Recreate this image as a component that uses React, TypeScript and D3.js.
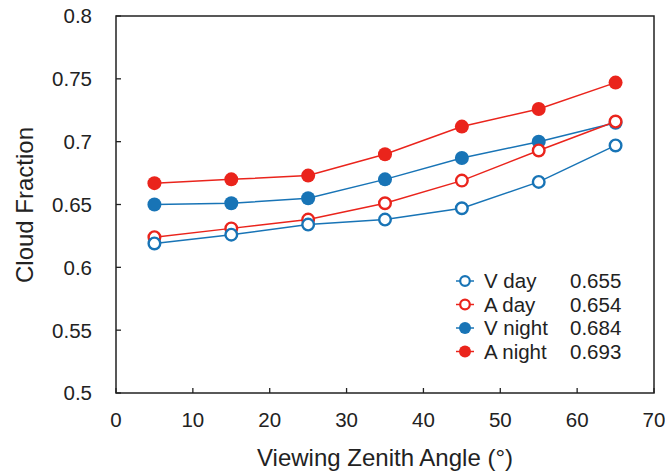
import React from "react";
import * as d3 from "d3";

const angles = [5, 15, 25, 35, 45, 55, 65];
const vDay = [0.619, 0.626, 0.634, 0.638, 0.647, 0.668, 0.697];
const aDay = [0.624, 0.631, 0.638, 0.651, 0.669, 0.693, 0.716];
const vNight = [0.65, 0.651, 0.655, 0.67, 0.687, 0.7, 0.715];
const aNight = [0.667, 0.67, 0.673, 0.69, 0.712, 0.726, 0.747];
const xTicks = [0, 10, 20, 30, 40, 50, 60, 70];
const yTicks = [0.5, 0.55, 0.6, 0.65, 0.7, 0.75, 0.8];
const legendNames = ["V day", "A day", "V night", "A night"];
const legendValues = ["0.655", "0.654", "0.684", "0.693"];

const RED = "#ea241c";
const BLUE = "#1874b6";
const FONT = "'Liberation Sans', Arial, Helvetica, sans-serif";

export default function App() {
  const W = 665, H = 473;
  const x = d3.scaleLinear().domain([0, 70]).range([116, 654]);
  const y = d3.scaleLinear().domain([0.5, 0.8]).range([393, 16]);
  const line = d3.line<number>().x((_, i) => x(angles[i])).y((d) => y(d));

  const series = [
    { name: legendNames[3], data: aNight, color: RED, open: false },
    { name: legendNames[2], data: vNight, color: BLUE, open: false },
    { name: legendNames[1], data: aDay, color: RED, open: true },
    { name: legendNames[0], data: vDay, color: BLUE, open: true },
  ];
  const legend = [
    { color: BLUE, open: true },
    { color: RED, open: true },
    { color: BLUE, open: false },
    { color: RED, open: false },
  ];

  const marker = (cx: number, cy: number, color: string, open: boolean, key: string) =>
    open ? (
      <circle key={key} cx={cx} cy={cy} r={5.8} fill="#fff" stroke={color} strokeWidth={2.4} />
    ) : (
      <circle key={key} cx={cx} cy={cy} r={7} fill={color} />
    );

  return (
    <svg width={W} height={H} style={{ display: "block", position: "absolute", left: 0, top: 0 }} fontFamily={FONT}>
      <rect width={W} height={H} fill="#fff" />
      <rect x={116} y={16} width={538} height={377} fill="none" stroke="#222" strokeWidth={1.5} />
      {yTicks.map((t) => (
        <g key={"y" + t}>
          <line x1={116} x2={121} y1={y(t)} y2={y(t)} stroke="#222" strokeWidth={1.3} />
          <text x={92} y={y(t)} dy="0.36em" textAnchor="end" fontSize={20.5} fill="#222">
            {t}
          </text>
        </g>
      ))}
      {xTicks.map((t) => (
        <g key={"x" + t}>
          <line x1={x(t)} x2={x(t)} y1={393} y2={388} stroke="#222" strokeWidth={1.3} />
          <text x={x(t)} y={420} dy="0.36em" textAnchor="middle" fontSize={20.5} fill="#222">
            {t}
          </text>
        </g>
      ))}
      <text x={385} y={457} dy="0.36em" textAnchor="middle" fontSize={24} fill="#222">
        Viewing Zenith Angle (°)
      </text>
      <text
        transform={`translate(24,205) rotate(-90)`}
        dy="0.36em"
        textAnchor="middle"
        fontSize={24}
        fill="#222"
      >
        Cloud Fraction
      </text>
      {series.map((s) => (
        <g key={s.name}>
          <path d={line(s.data) || ""} fill="none" stroke={s.color} strokeWidth={1.5} />
          {s.data.map((v, i) => marker(x(angles[i]), y(v), s.color, s.open, s.name + i))}
        </g>
      ))}
      {legend.map((l, i) => {
        const ly = 281 + i * 23.5;
        return (
          <g key={"l" + i}>
            <line x1={456} x2={474} y1={ly} y2={ly} stroke={l.color} strokeWidth={1.5} />
            {l.open ? (
              <circle cx={465} cy={ly} r={4.8} fill="#fff" stroke={l.color} strokeWidth={2.2} />
            ) : (
              <circle cx={465} cy={ly} r={6} fill={l.color} />
            )}
            <text x={484} y={ly} dy="0.36em" fontSize={20.5} fill="#222">
              {legendNames[i]}
            </text>
            <text x={570} y={ly} dy="0.36em" fontSize={20.5} fill="#222">
              {legendValues[i]}
            </text>
          </g>
        );
      })}
    </svg>
  );
}
